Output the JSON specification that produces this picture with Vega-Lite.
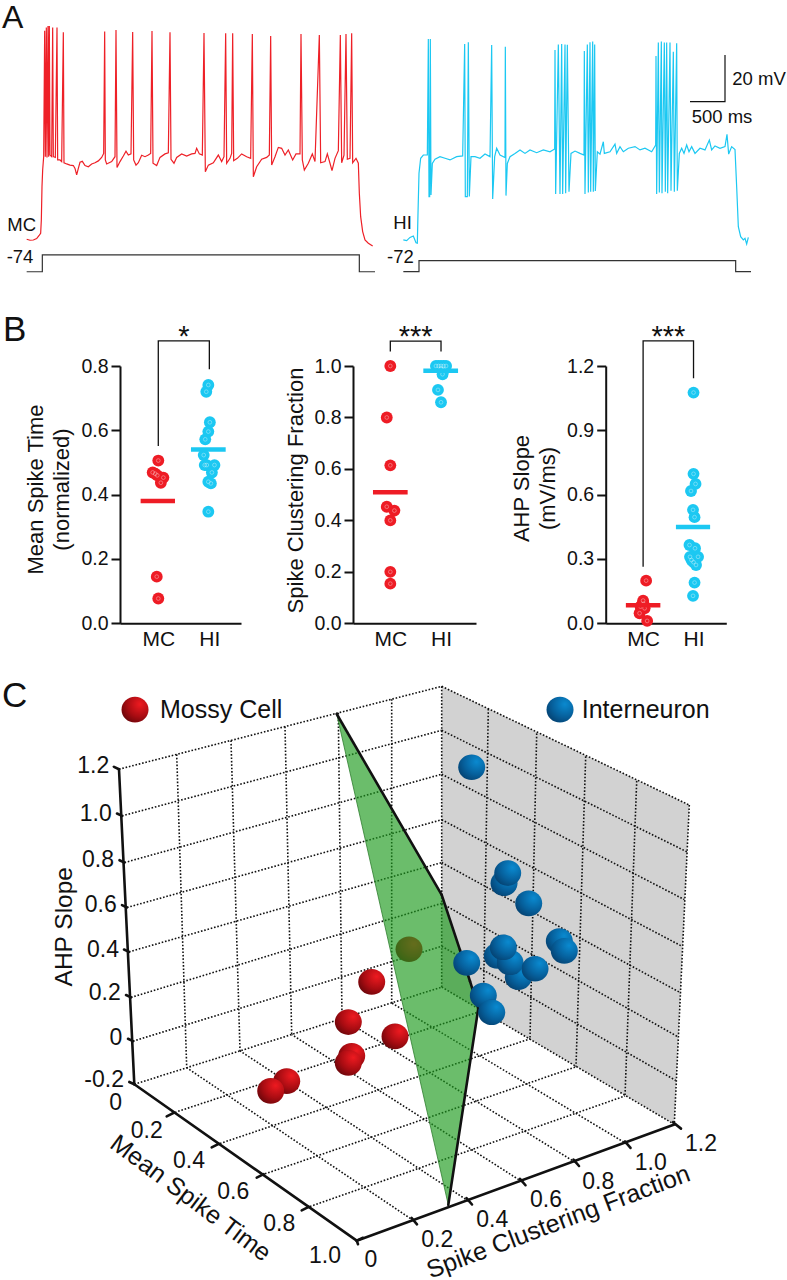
{"$schema":"https://vega.github.io/schema/vega-lite/v6.json","padding":0,"background":"white","spacing":0,
"config":{"view":{"stroke":null},"text":{"font":"Liberation Sans","color":"#111"},"axis":{"grid":false,"labelFont":"Liberation Sans","titleFont":"Liberation Sans","titleFontWeight":"normal","domainColor":"#111","tickColor":"#111","labelColor":"#111","titleColor":"#111","domainWidth":2,"tickWidth":2,"tickSize":9,"labelFontSize":19.5,"labelPadding":3,"titleFontSize":22,"titleLineHeight":26},"concat":{"spacing":0}},
"datasets":{
"mc":[{"t":-240,"v":-73.7},{"t":-190,"v":-74.1},{"t":-140,"v":-74},{"t":-90,"v":-73.4},{"t":-50,"v":-71.9},{"t":-30,"v":-71.1},{"t":-20,"v":-65.4},{"t":-10,"v":-51.1},{"t":0,"v":-44},{"t":15,"v":-38.3},{"t":30,"v":15.7},{"t":40,"v":-38.3},{"t":55,"v":17.1},{"t":65,"v":-38.6},{"t":80,"v":17.7},{"t":90,"v":-38.3},{"t":100,"v":17.7},{"t":110,"v":-37.6},{"t":135,"v":-38.3},{"t":150,"v":17.1},{"t":160,"v":-38.3},{"t":190,"v":-38.6},{"t":215,"v":17.1},{"t":225,"v":-39.7},{"t":260,"v":-39.7},{"t":285,"v":-40.4},{"t":310,"v":15},{"t":320,"v":-40.9},{"t":360,"v":-41.4},{"t":410,"v":-41.9},{"t":460,"v":-42.1},{"t":485,"v":-43.3},{"t":510,"v":-46.1},{"t":535,"v":-43.3},{"t":560,"v":-40.7},{"t":595,"v":-40.3},{"t":635,"v":-42.1},{"t":685,"v":-42.6},{"t":735,"v":-41.4},{"t":785,"v":-40.9},{"t":835,"v":-40.1},{"t":885,"v":-38.6},{"t":915,"v":-36.9},{"t":930,"v":15.4},{"t":940,"v":-39.7},{"t":960,"v":-41.4},{"t":1035,"v":-40.4},{"t":1085,"v":-38.3},{"t":1100,"v":16},{"t":1115,"v":-42.9},{"t":1160,"v":-40.4},{"t":1210,"v":-38},{"t":1250,"v":-35.9},{"t":1285,"v":-37.6},{"t":1325,"v":-37.1},{"t":1350,"v":15.1},{"t":1365,"v":-39.7},{"t":1400,"v":-41.9},{"t":1435,"v":-40.9},{"t":1485,"v":-37.7},{"t":1535,"v":-38.3},{"t":1585,"v":-37.6},{"t":1620,"v":-36.9},{"t":1640,"v":15.6},{"t":1655,"v":-41.1},{"t":1710,"v":-42.1},{"t":1760,"v":-38.6},{"t":1835,"v":-37.1},{"t":1885,"v":-36.6},{"t":1910,"v":15},{"t":1925,"v":-39.4},{"t":1970,"v":-41.1},{"t":2010,"v":-38.6},{"t":2085,"v":-37.1},{"t":2160,"v":-38},{"t":2235,"v":-37.1},{"t":2285,"v":-36.9},{"t":2310,"v":-34.7},{"t":2350,"v":-37.1},{"t":2395,"v":-37.6},{"t":2420,"v":14.7},{"t":2440,"v":-44.7},{"t":2485,"v":-41.9},{"t":2560,"v":-40.9},{"t":2635,"v":-37.6},{"t":2685,"v":-40.4},{"t":2720,"v":-38.3},{"t":2745,"v":14.6},{"t":2760,"v":-41.1},{"t":2810,"v":-39},{"t":2835,"v":-36.9},{"t":2850,"v":14.6},{"t":2865,"v":-40},{"t":2920,"v":-39},{"t":2985,"v":-37.1},{"t":3060,"v":-38.3},{"t":3120,"v":-39},{"t":3145,"v":14.3},{"t":3160,"v":-46.9},{"t":3210,"v":-42.6},{"t":3285,"v":-39.4},{"t":3360,"v":-38.6},{"t":3400,"v":-37.6},{"t":3420,"v":13.4},{"t":3435,"v":-41.9},{"t":3485,"v":-38.3},{"t":3535,"v":-34.3},{"t":3585,"v":-34.7},{"t":3635,"v":-37.6},{"t":3685,"v":-35.4},{"t":3750,"v":-39.7},{"t":3800,"v":-37.1},{"t":3860,"v":-37.1},{"t":3875,"v":14.3},{"t":3895,"v":-39.7},{"t":3925,"v":-44},{"t":3985,"v":-41.1},{"t":4045,"v":-37.1},{"t":4085,"v":-40.4},{"t":4150,"v":13.9},{"t":4170,"v":-40.9},{"t":4235,"v":-40.4},{"t":4270,"v":-37.1},{"t":4310,"v":-41.1},{"t":4340,"v":-44.3},{"t":4385,"v":-39},{"t":4435,"v":-35.7},{"t":4465,"v":13.9},{"t":4485,"v":-40.9},{"t":4520,"v":-37.6},{"t":4550,"v":14.3},{"t":4570,"v":-39.4},{"t":4610,"v":-39},{"t":4635,"v":14.6},{"t":4650,"v":-40.9},{"t":4700,"v":-39},{"t":4735,"v":-41.1},{"t":4750,"v":-54},{"t":4770,"v":-64},{"t":4800,"v":-70.4},{"t":4835,"v":-74},{"t":4885,"v":-75.4},{"t":4950,"v":-76.6}],
"hi":[{"t":-235,"v":-71.7},{"t":-185,"v":-72},{"t":-135,"v":-70.6},{"t":-85,"v":-70},{"t":-45,"v":-72.9},{"t":-25,"v":-73.1},{"t":-15,"v":-60.3},{"t":0,"v":-43.1},{"t":25,"v":-36.7},{"t":65,"v":-35.3},{"t":125,"v":-35.3},{"t":140,"v":14.4},{"t":150,"v":-53.1},{"t":160,"v":-53.1},{"t":170,"v":14.4},{"t":180,"v":-52.4},{"t":200,"v":-38.9},{"t":240,"v":-37.1},{"t":315,"v":-36},{"t":390,"v":-36.7},{"t":465,"v":-37.4},{"t":565,"v":-36},{"t":655,"v":-35.7},{"t":685,"v":12.3},{"t":695,"v":-53.1},{"t":725,"v":-53.1},{"t":740,"v":13},{"t":755,"v":-53.1},{"t":780,"v":-36},{"t":840,"v":-36},{"t":915,"v":-36.7},{"t":990,"v":-34.9},{"t":1065,"v":-36},{"t":1090,"v":11.9},{"t":1105,"v":-54.1},{"t":1135,"v":-36},{"t":1165,"v":-32.4},{"t":1215,"v":-35.3},{"t":1290,"v":-36.4},{"t":1295,"v":11.1},{"t":1305,"v":-52.7},{"t":1325,"v":-38.9},{"t":1365,"v":-36},{"t":1440,"v":-34.6},{"t":1515,"v":-33.1},{"t":1590,"v":-34.6},{"t":1665,"v":-33.1},{"t":1765,"v":-34.3},{"t":1865,"v":-33.1},{"t":1965,"v":-33.9},{"t":2035,"v":-32.7},{"t":2040,"v":9.7},{"t":2050,"v":-52},{"t":2090,"v":12.1},{"t":2115,"v":-52},{"t":2140,"v":12.3},{"t":2155,"v":-52},{"t":2190,"v":12.1},{"t":2200,"v":-51.7},{"t":2225,"v":12},{"t":2250,"v":-51},{"t":2280,"v":-34.6},{"t":2340,"v":-33.6},{"t":2415,"v":-34.6},{"t":2475,"v":-35.3},{"t":2480,"v":9.3},{"t":2490,"v":-52},{"t":2525,"v":12.1},{"t":2540,"v":-51.4},{"t":2565,"v":13},{"t":2575,"v":-51},{"t":2605,"v":13.3},{"t":2615,"v":-51},{"t":2635,"v":12.1},{"t":2645,"v":-50.7},{"t":2675,"v":-33.9},{"t":2715,"v":-34.9},{"t":2765,"v":-29.6},{"t":2780,"v":-34.6},{"t":2865,"v":-33.9},{"t":2940,"v":-30.6},{"t":2965,"v":-34.6},{"t":3015,"v":-31.7},{"t":3065,"v":-33.9},{"t":3140,"v":-32.4},{"t":3240,"v":-31.7},{"t":3315,"v":-33.1},{"t":3390,"v":-32.4},{"t":3490,"v":-33.9},{"t":3550,"v":-31},{"t":3555,"v":7.1},{"t":3565,"v":-52},{"t":3590,"v":12.9},{"t":3605,"v":-51.4},{"t":3635,"v":13.3},{"t":3645,"v":-51.7},{"t":3680,"v":12.9},{"t":3695,"v":-51},{"t":3715,"v":12.9},{"t":3730,"v":-51.7},{"t":3765,"v":12.9},{"t":3780,"v":-50.6},{"t":3815,"v":9},{"t":3830,"v":-51},{"t":3865,"v":12.6},{"t":3875,"v":-50.6},{"t":3905,"v":-34.6},{"t":3940,"v":-32.4},{"t":3975,"v":-34.6},{"t":4015,"v":-31},{"t":4050,"v":-33.9},{"t":4090,"v":-31.7},{"t":4140,"v":-34.6},{"t":4215,"v":-32.4},{"t":4290,"v":-33.1},{"t":4355,"v":-28.9},{"t":4390,"v":-33.1},{"t":4440,"v":-31.4},{"t":4515,"v":-32.4},{"t":4590,"v":-31.7},{"t":4620,"v":-26.4},{"t":4645,"v":-34.9},{"t":4690,"v":-31.7},{"t":4740,"v":-32.9},{"t":4765,"v":-48.9},{"t":4790,"v":-66},{"t":4825,"v":-70.3},{"t":4865,"v":-71.7},{"t":4890,"v":-71},{"t":4915,"v":-73.4},{"t":4940,"v":-70.6}],
"p1":[{"g":"MC","pos":1.0,"value":0.506},{"g":"MC","pos":0.89,"value":0.469},{"g":"MC","pos":0.94,"value":0.465},{"g":"MC","pos":0.98,"value":0.46},{"g":"MC","pos":1.1,"value":0.453},{"g":"MC","pos":1.05,"value":0.437},{"g":"MC","pos":0.97,"value":0.145},{"g":"MC","pos":1.0,"value":0.077},{"g":"HI","pos":1.98,"value":0.741},{"g":"HI","pos":1.94,"value":0.72},{"g":"HI","pos":2.01,"value":0.625},{"g":"HI","pos":1.98,"value":0.596},{"g":"HI","pos":1.92,"value":0.572},{"g":"HI","pos":1.89,"value":0.523},{"g":"HI","pos":1.95,"value":0.492},{"g":"HI","pos":2.1,"value":0.492},{"g":"HI","pos":1.91,"value":0.492},{"g":"HI","pos":2.05,"value":0.469},{"g":"HI","pos":1.98,"value":0.44},{"g":"HI","pos":2.03,"value":0.435},{"g":"HI","pos":1.98,"value":0.347}],
"p2":[{"g":"MC","pos":1.0,"value":1.0},{"g":"MC","pos":0.93,"value":0.8},{"g":"MC","pos":1.0,"value":0.614},{"g":"MC","pos":0.93,"value":0.453},{"g":"MC","pos":1.08,"value":0.438},{"g":"MC","pos":1.0,"value":0.4},{"g":"MC","pos":1.0,"value":0.2},{"g":"MC","pos":1.0,"value":0.154},{"g":"HI","pos":1.9,"value":1.0},{"g":"HI","pos":1.95,"value":1.0},{"g":"HI","pos":2.0,"value":1.0},{"g":"HI","pos":2.05,"value":1.0},{"g":"HI","pos":2.1,"value":1.0},{"g":"HI","pos":2.0,"value":0.99},{"g":"HI","pos":2.06,"value":0.985},{"g":"HI","pos":2.03,"value":0.968},{"g":"HI","pos":1.94,"value":0.907},{"g":"HI","pos":2.0,"value":0.859}],
"p3":[{"g":"MC","pos":1.06,"value":0.199},{"g":"MC","pos":1.0,"value":0.106},{"g":"MC","pos":0.97,"value":0.085},{"g":"MC","pos":0.93,"value":0.047},{"g":"MC","pos":1.03,"value":0.07},{"g":"MC","pos":1.08,"value":0.011},{"g":"MC","pos":0.95,"value":0.078},{"g":"MC","pos":1.01,"value":0.09},{"g":"HI","pos":2.0,"value":1.076},{"g":"HI","pos":2.0,"value":0.697},{"g":"HI","pos":2.04,"value":0.65},{"g":"HI","pos":1.95,"value":0.617},{"g":"HI","pos":1.99,"value":0.529},{"g":"HI","pos":2.02,"value":0.495},{"g":"HI","pos":1.92,"value":0.365},{"g":"HI","pos":2.03,"value":0.35},{"g":"HI","pos":2.09,"value":0.31},{"g":"HI","pos":1.93,"value":0.31},{"g":"HI","pos":1.96,"value":0.295},{"g":"HI","pos":2.0,"value":0.285},{"g":"HI","pos":2.05,"value":0.272},{"g":"HI","pos":2.02,"value":0.19},{"g":"HI","pos":1.99,"value":0.128}],
"polys":[{"n":"wall","i":0,"u":441.7,"w":684},{"n":"wall","i":1,"u":689.3,"w":785.7},{"n":"wall","i":2,"u":674.3,"w":1059.3},{"n":"wall","i":3,"u":441.7,"w":941.7}],
"plane":[{"n":"plane","i":0,"u":336.7,"w":707.7},{"n":"plane","i":1,"u":441.7,"w":862.7},{"n":"plane","i":2,"u":460,"w":910},{"n":"plane","i":3,"u":470,"w":936.7},{"n":"plane","i":4,"u":478.3,"w":960},{"n":"plane","i":5,"u":448.3,"w":1128.3}],
"grid":[{"u":119,"w":755,"u2":441.7,"w2":684},{"u":122,"w":795,"u2":441.7,"w2":721.7},{"u":124.5,"w":835,"u2":441.7,"w2":759.3},{"u":127,"w":873.5,"u2":441.7,"w2":798.3},{"u":129,"w":911.5,"u2":441.7,"w2":835},{"u":131,"w":950.5,"u2":441.7,"w2":870},{"u":133,"w":988,"u2":441.7,"w2":906.7},{"u":134.3,"w":1025,"u2":441.7,"w2":941.7},{"u":441.7,"w":684,"u2":689.3,"w2":785.7},{"u":441.7,"w":721.7,"u2":687.3,"w2":826},{"u":441.7,"w":759.3,"u2":684.3,"w2":866.7},{"u":441.7,"w":798.3,"u2":682,"w2":906.7},{"u":441.7,"w":835,"u2":679.3,"w2":946},{"u":441.7,"w":870,"u2":677.3,"w2":984},{"u":441.7,"w":906.7,"u2":675.7,"w2":1021.7},{"u":441.7,"w":941.7,"u2":674.3,"w2":1059.3},{"u":176.7,"w":742.3,"u2":186.7,"w2":1010.8},{"u":231,"w":730.4,"u2":240,"w2":996.4},{"u":285,"w":718.5,"u2":291.7,"w2":982.4},{"u":338.3,"w":706.7,"u2":342,"w2":968.7},{"u":391.7,"w":695,"u2":391.7,"w2":955.3},{"u":441.7,"w":684,"u2":441.7,"w2":941.7},{"u":488.3,"w":703.3,"u2":483.3,"w2":961.7},{"u":536.7,"w":724.3,"u2":530,"w2":986},{"u":585.7,"w":744,"u2":576,"w2":1010},{"u":636.7,"w":765,"u2":625,"w2":1035},{"u":689.3,"w":785.7,"u2":674.3,"w2":1059.3},{"u":413.3,"w":1141.7,"u2":186.7,"w2":1010.8},{"u":468.3,"w":1125,"u2":240,"w2":996.4},{"u":521.7,"w":1108.3,"u2":291.7,"w2":982.4},{"u":575,"w":1091.7,"u2":342,"w2":968.7},{"u":626.7,"w":1076,"u2":391.7,"w2":955.3},{"u":171.7,"w":1050,"u2":483.3,"w2":961.7},{"u":216.7,"w":1076.7,"u2":530,"w2":986},{"u":261.7,"w":1102.7,"u2":576,"w2":1010},{"u":306.7,"w":1130.7,"u2":625,"w2":1035}],
"edges":[{"u":336.7,"w":707.7,"u2":441.7,"w2":862.7},{"u":441.7,"w":862.7,"u2":460,"w2":910},{"u":460,"w":910,"u2":470,"w2":936.7},{"u":470,"w":936.7,"u2":478.3,"w2":960},{"u":478.3,"w":960,"u2":448.3,"w2":1128.3}],
"axes3d":[{"u":119,"w":755,"u2":134.3,"w2":1025},{"u":134.3,"w":1025,"u2":356.7,"w2":1159},{"u":356.7,"w":1159,"u2":675,"w2":1059.3},{"u":114,"w":753,"u2":119,"w2":755},{"u":117,"w":793,"u2":122,"w2":795},{"u":119.5,"w":833,"u2":124.5,"w2":835},{"u":122,"w":871.5,"u2":127,"w2":873.5},{"u":124,"w":909.5,"u2":129,"w2":911.5},{"u":126,"w":948.5,"u2":131,"w2":950.5},{"u":128,"w":986,"u2":133,"w2":988},{"u":129.3,"w":1023,"u2":134.3,"w2":1025},{"u":166.7,"w":1052.5,"u2":173.7,"w2":1049.5},{"u":211.7,"w":1079,"u2":218.7,"w2":1076},{"u":256.7,"w":1105,"u2":263.7,"w2":1102},{"u":301.7,"w":1133,"u2":308.7,"w2":1130},{"u":356.7,"w":1159,"u2":363,"w2":1156.5},{"u":356.7,"w":1159,"u2":358,"w2":1162},{"u":411.5,"w":1139.5,"u2":417,"w2":1145},{"u":466.5,"w":1122.5,"u2":472,"w2":1128},{"u":520,"w":1106,"u2":525.5,"w2":1111.5},{"u":573.5,"w":1089.5,"u2":579,"w2":1095},{"u":625,"w":1074,"u2":630.5,"w2":1079.5},{"u":673,"w":1057.5,"u2":681,"w2":1063}],
"redBalls":[{"u":371.7,"w":937.3},{"u":409,"w":909.3},{"u":348.3,"w":971.7},{"u":395,"w":984},{"u":351.7,"w":1000.7},{"u":348.3,"w":1006.7},{"u":286.7,"w":1022.3},{"u":270.7,"w":1030.7},{"u":135,"w":704}],
"blueBalls":[{"u":471.7,"w":753.3},{"u":504,"w":852.7},{"u":507.7,"w":844},{"u":528.7,"w":870},{"u":559.3,"w":902.3},{"u":564.3,"w":910.7},{"u":497.3,"w":915},{"u":518.3,"w":933.3},{"u":510,"w":920.7},{"u":503.3,"w":907.7},{"u":535,"w":926},{"u":466.7,"w":921},{"u":483.3,"w":949},{"u":491.7,"w":963.3},{"u":560,"w":704}],
"labels3d":[{"u":115.7,"w":1040.7,"s":"0"},{"u":146.7,"w":1065,"s":"0.2"},{"u":189,"w":1091,"s":"0.4"},{"u":233.3,"w":1117.7,"s":"0.6"},{"u":279.3,"w":1144.3,"s":"0.8"},{"u":325,"w":1172.3,"s":"1.0"},{"u":371,"w":1175.7,"s":"0"},{"u":437.3,"w":1158.3,"s":"0.2"},{"u":492.3,"w":1141,"s":"0.4"},{"u":546,"w":1124,"s":"0.6"},{"u":598.3,"w":1108.3,"s":"0.8"},{"u":650.7,"w":1092.3,"s":"1.0"},{"u":701,"w":1076,"s":"1.2"}],
"zlabels":[{"u":109.3,"w":752.3,"s":"1.2"},{"u":111.7,"w":793,"s":"1.0"},{"u":114,"w":833,"s":"0.8"},{"u":116.7,"w":871.7,"s":"0.6"},{"u":119,"w":910,"s":"0.4"},{"u":120.7,"w":946.7,"s":"0.2"},{"u":122.3,"w":985,"s":"0"},{"u":124,"w":1021.7,"s":"-0.2"}]
},
"vconcat":[
{"spacing":0,"hconcat":[
{"width":380,"height":290,"layer":[
{"data":{"name":"mc"},"mark":{"type":"line","color":"#ee2027","strokeWidth":1.2},"encoding":{"x":{"field":"t","type":"quantitative","axis":null,"scale":{"domain":[-640,5060],"nice":false,"zero":false}},"y":{"field":"v","type":"quantitative","axis":null,"scale":{"domain":[-95.43,28.857],"nice":false,"zero":false}}}},
{"data":{"values":[{"i":0,"t":-240,"v":-87.6},{"i":1,"t":-5,"v":-87.6},{"i":2,"t":-5,"v":-80.4},{"i":3,"t":4750,"v":-80.4},{"i":4,"t":4750,"v":-87.6},{"i":5,"t":4985,"v":-87.6}]},"mark":{"type":"line","color":"#333","strokeWidth":1.2},"encoding":{"x":{"field":"t","type":"quantitative"},"y":{"field":"v","type":"quantitative"},"order":{"field":"i"}}},
{"data":{"values":[{"t":-530,"v":-67.7,"s":"MC"},{"t":-540,"v":-81.1,"s":"-74"}]},"mark":{"type":"text","align":"left","baseline":"middle","fontSize":18.5},"encoding":{"x":{"field":"t","type":"quantitative"},"y":{"field":"v","type":"quantitative"},"text":{"field":"s"}}},
{"data":{"values":[{"t":-610,"v":21,"s":"A"}]},"mark":{"type":"text","align":"left","baseline":"middle","fontSize":32},"encoding":{"x":{"field":"t","type":"quantitative"},"y":{"field":"v","type":"quantitative"},"text":{"field":"s"}}}
]},
{"width":407,"height":290,"layer":[
{"data":{"name":"hi"},"mark":{"type":"line","color":"#1cc8f2","strokeWidth":1.2},"encoding":{"x":{"field":"t","type":"quantitative","axis":null,"scale":{"domain":[-585,5520],"nice":false,"zero":false}},"y":{"field":"v","type":"quantitative","axis":null,"scale":{"domain":[-93.15,31.14],"nice":false,"zero":false}}}},
{"data":{"values":[{"i":0,"t":-235,"v":-85.3},{"i":1,"t":0,"v":-85.3},{"i":2,"t":0,"v":-80.6},{"i":3,"t":4750,"v":-80.6},{"i":4,"t":4750,"v":-85.3},{"i":5,"t":4980,"v":-85.3}]},"mark":{"type":"line","color":"#333","strokeWidth":1.2},"encoding":{"x":{"field":"t","type":"quantitative"},"y":{"field":"v","type":"quantitative"},"order":{"field":"i"}}},
{"data":{"values":[{"i":0,"t":4065,"v":-12.4},{"i":1,"t":4590,"v":-12.4},{"i":2,"t":4590,"v":7.6}]},"mark":{"type":"line","color":"#111","strokeWidth":1.2},"encoding":{"x":{"field":"t","type":"quantitative"},"y":{"field":"v","type":"quantitative"},"order":{"field":"i"}}},
{"data":{"values":[{"t":4700,"v":-2.9,"s":"20 mV"},{"t":4090,"v":-19.1,"s":"500 ms"},{"t":-385,"v":-64.6,"s":"HI"},{"t":-480,"v":-79.1,"s":"-72"}]},"mark":{"type":"text","align":"left","baseline":"middle","fontSize":18.5},"encoding":{"x":{"field":"t","type":"quantitative"},"y":{"field":"v","type":"quantitative"},"text":{"field":"s"}}}
]}
]},
{"spacing":0,"hconcat":[
{"width":270,"height":370,"layer":[
{"data":{"name":"p1"},"mark":{"type":"point","filled":true,"size":140,"opacity":1},"encoding":{"x":{"field":"pos","type":"quantitative","scale":{"domain":[0.25,2.62],"range":[120,241],"nice":false,"zero":false},"axis":{"values":[1,2],"labelExpr":"datum.value==1?'MC':'HI'","ticks":false,"title":null,"offset":-36.7,"labelFontSize":21,"labelPadding":5}},"y":{"field":"value","type":"quantitative","scale":{"domain":[0,0.8],"range":[333.3,76],"nice":false,"zero":false},"axis":{"values":[0,0.2,0.4,0.6,0.8],"format":".1f","offset":-120,"title":["Mean Spike Time","(normalized)"],"titleX":-73,"titleY":199}},"color":{"field":"g","type":"nominal","scale":{"domain":["MC","HI"],"range":["#ee1c25","#1cc8f2"]},"legend":null}}},
{"data":{"name":"p1"},"mark":{"type":"point","filled":false,"size":14,"stroke":"#fff","strokeWidth":0.7,"opacity":0.5},"encoding":{"x":{"field":"pos","type":"quantitative"},"y":{"field":"value","type":"quantitative"}}},
{"data":{"values":[{"g":"MC","pos":0.654,"pos2":1.327,"value":0.38},{"g":"HI","pos":1.64,"pos2":2.32,"value":0.54}]},"mark":{"type":"rule","strokeWidth":4.5},"encoding":{"x":{"field":"pos","type":"quantitative"},"x2":{"field":"pos2"},"y":{"field":"value","type":"quantitative"},"color":{"field":"g","type":"nominal"}}},
{"data":{"values":[{"i":0,"pos":1,"value":0.551},{"i":1,"pos":1,"value":0.878},{"i":2,"pos":2,"value":0.878},{"i":3,"pos":2,"value":0.79}]},"mark":{"type":"line","color":"#111","strokeWidth":1.3},"encoding":{"x":{"field":"pos","type":"quantitative"},"y":{"field":"value","type":"quantitative"},"order":{"field":"i"}}},
{"data":{"values":[{"pos":1.5,"value":0.89,"s":"*"}]},"mark":{"type":"text","fontSize":29,"align":"center","baseline":"middle"},"encoding":{"x":{"field":"pos","type":"quantitative"},"y":{"field":"value","type":"quantitative"},"text":{"field":"s"}}},
{"data":{"values":[{"pos":-2.04,"value":0.912,"s":"B"}]},"mark":{"type":"text","fontSize":35,"align":"left","baseline":"middle"},"encoding":{"x":{"field":"pos","type":"quantitative"},"y":{"field":"value","type":"quantitative"},"text":{"field":"s"}}}
]},
{"width":240,"height":370,"layer":[
{"data":{"name":"p2"},"mark":{"type":"point","filled":true,"size":140,"opacity":1},"encoding":{"x":{"field":"pos","type":"quantitative","scale":{"domain":[0.264,2.69],"range":[83,206],"nice":false,"zero":false},"axis":{"values":[1,2],"labelExpr":"datum.value==1?'MC':'HI'","ticks":false,"title":null,"offset":-36.7,"labelFontSize":21,"labelPadding":5}},"y":{"field":"value","type":"quantitative","scale":{"domain":[0,1],"range":[333.3,76],"nice":false,"zero":false},"axis":{"values":[0,0.2,0.4,0.6,0.8,1],"format":".1f","offset":-83,"title":"Spike Clustering Fraction","titleX":-46,"titleY":200}},"color":{"field":"g","type":"nominal","scale":{"domain":["MC","HI"],"range":["#ee1c25","#1cc8f2"]},"legend":null}}},
{"data":{"name":"p2"},"mark":{"type":"point","filled":false,"size":14,"stroke":"#fff","strokeWidth":0.7,"opacity":0.5},"encoding":{"x":{"field":"pos","type":"quantitative"},"y":{"field":"value","type":"quantitative"}}},
{"data":{"values":[{"g":"MC","pos":0.658,"pos2":1.342,"value":0.509},{"g":"HI","pos":1.651,"pos2":2.336,"value":0.982}]},"mark":{"type":"rule","strokeWidth":4.5},"encoding":{"x":{"field":"pos","type":"quantitative"},"x2":{"field":"pos2"},"y":{"field":"value","type":"quantitative"},"color":{"field":"g","type":"nominal"}}},
{"data":{"values":[{"i":0,"pos":1,"value":1.056},{"i":1,"pos":1,"value":1.097},{"i":2,"pos":2,"value":1.097},{"i":3,"pos":2,"value":1.056}]},"mark":{"type":"line","color":"#111","strokeWidth":1.3},"encoding":{"x":{"field":"pos","type":"quantitative"},"y":{"field":"value","type":"quantitative"},"order":{"field":"i"}}},
{"data":{"values":[{"pos":1.5,"value":1.112,"s":"***"}]},"mark":{"type":"text","fontSize":29,"align":"center","baseline":"middle"},"encoding":{"x":{"field":"pos","type":"quantitative"},"y":{"field":"value","type":"quantitative"},"text":{"field":"s"}}}
]},
{"width":277,"height":370,"layer":[
{"data":{"name":"p3"},"mark":{"type":"point","filled":true,"size":140,"opacity":1},"encoding":{"x":{"field":"pos","type":"quantitative","scale":{"domain":[0.258,2.65],"range":[92.7,213.3],"nice":false,"zero":false},"axis":{"values":[1,2],"labelExpr":"datum.value==1?'MC':'HI'","ticks":false,"title":null,"offset":-36.7,"labelFontSize":21,"labelPadding":5}},"y":{"field":"value","type":"quantitative","scale":{"domain":[0,1.2],"range":[333.3,76],"nice":false,"zero":false},"axis":{"values":[0,0.3,0.6,0.9,1.2],"format":".1f","offset":-92.7,"title":["AHP Slope","(mV/ms)"],"titleX":-72,"titleY":198}},"color":{"field":"g","type":"nominal","scale":{"domain":["MC","HI"],"range":["#ee1c25","#1cc8f2"]},"legend":null}}},
{"data":{"name":"p3"},"mark":{"type":"point","filled":false,"size":14,"stroke":"#fff","strokeWidth":0.7,"opacity":0.5},"encoding":{"x":{"field":"pos","type":"quantitative"},"y":{"field":"value","type":"quantitative"}}},
{"data":{"values":[{"g":"MC","pos":0.658,"pos2":1.342,"value":0.084},{"g":"HI","pos":1.651,"pos2":2.329,"value":0.449}]},"mark":{"type":"rule","strokeWidth":4.5},"encoding":{"x":{"field":"pos","type":"quantitative"},"x2":{"field":"pos2"},"y":{"field":"value","type":"quantitative"},"color":{"field":"g","type":"nominal"}}},
{"data":{"values":[{"i":0,"pos":1,"value":0.264},{"i":1,"pos":1,"value":1.317},{"i":2,"pos":2,"value":1.317},{"i":3,"pos":2,"value":1.143}]},"mark":{"type":"line","color":"#111","strokeWidth":1.3},"encoding":{"x":{"field":"pos","type":"quantitative"},"y":{"field":"value","type":"quantitative"},"order":{"field":"i"}}},
{"data":{"values":[{"pos":1.5,"value":1.334,"s":"***"}]},"mark":{"type":"text","fontSize":29,"align":"center","baseline":"middle"},"encoding":{"x":{"field":"pos","type":"quantitative"},"y":{"field":"value","type":"quantitative"},"text":{"field":"s"}}}
]}
]},
{"width":787,"height":620,"layer":[
{"data":{"name":"polys"},"mark":{"type":"line","fill":"#d2d2d2","stroke":null,"interpolate":"linear-closed"},"encoding":{"x":{"field":"u","type":"quantitative","axis":null,"scale":{"domain":[0,787],"nice":false,"zero":false}},"y":{"field":"w","type":"quantitative","axis":null,"scale":{"domain":[661.43,1192.7],"reverse":true,"nice":false,"zero":false}},"order":{"field":"i"}}},
{"data":{"name":"grid"},"mark":{"type":"rule","color":"#111","strokeWidth":1.6,"strokeDash":[1.6,1.8]},"encoding":{"x":{"field":"u","type":"quantitative"},"y":{"field":"w","type":"quantitative"},"x2":{"field":"u2"},"y2":{"field":"w2"}}},
{"data":{"name":"redBalls"},"mark":{"type":"point","filled":true,"opacity":1,"size":729,"shape":"M-1,0A1,0.95 0 1 1 1,0A1,0.95 0 1 1 -1,0Z","fill":{"gradient":"radial","x1":0.68,"y1":0.3,"r1":0,"x2":0.68,"y2":0.3,"r2":0.85,"stops":[{"offset":0,"color":"#ee1a20"},{"offset":0.55,"color":"#a80c12"},{"offset":1,"color":"#5a0408"}]}},"encoding":{"x":{"field":"u","type":"quantitative"},"y":{"field":"w","type":"quantitative"}}},
{"data":{"name":"plane"},"mark":{"type":"line","fill":"#1c9a1c","fillOpacity":0.65,"stroke":"#2f7d2f","strokeWidth":0.8,"interpolate":"linear-closed"},"encoding":{"x":{"field":"u","type":"quantitative"},"y":{"field":"w","type":"quantitative"},"order":{"field":"i"}}},
{"data":{"name":"edges"},"mark":{"type":"rule","color":"#111","strokeWidth":2.6,"strokeCap":"round"},"encoding":{"x":{"field":"u","type":"quantitative"},"y":{"field":"w","type":"quantitative"},"x2":{"field":"u2"},"y2":{"field":"w2"}}},
{"data":{"name":"blueBalls"},"mark":{"type":"point","filled":true,"opacity":1,"size":729,"shape":"M-1,0A1,0.95 0 1 1 1,0A1,0.95 0 1 1 -1,0Z","fill":{"gradient":"radial","x1":0.68,"y1":0.3,"r1":0,"x2":0.68,"y2":0.3,"r2":0.85,"stops":[{"offset":0,"color":"#0a8ad0"},{"offset":0.55,"color":"#06609c"},{"offset":1,"color":"#043a66"}]}},"encoding":{"x":{"field":"u","type":"quantitative"},"y":{"field":"w","type":"quantitative"}}},
{"data":{"name":"axes3d"},"mark":{"type":"rule","color":"#111","strokeWidth":2.6,"strokeCap":"round"},"encoding":{"x":{"field":"u","type":"quantitative"},"y":{"field":"w","type":"quantitative"},"x2":{"field":"u2"},"y2":{"field":"w2"}}},
{"data":{"name":"labels3d"},"mark":{"type":"text","fontSize":23,"align":"center","baseline":"middle"},"encoding":{"x":{"field":"u","type":"quantitative"},"y":{"field":"w","type":"quantitative"},"text":{"field":"s"}}},
{"data":{"name":"zlabels"},"mark":{"type":"text","fontSize":23,"align":"right","baseline":"middle"},"encoding":{"x":{"field":"u","type":"quantitative"},"y":{"field":"w","type":"quantitative"},"text":{"field":"s"}}},
{"data":{"values":[{"u":160,"w":704,"s":"Mossy Cell"},{"u":581.7,"w":704,"s":"Interneuron"}]},"mark":{"type":"text","fontSize":25,"align":"left","baseline":"middle"},"encoding":{"x":{"field":"u","type":"quantitative"},"y":{"field":"w","type":"quantitative"},"text":{"field":"s"}}},
{"data":{"values":[{"u":2,"w":692.7,"s":"C"}]},"mark":{"type":"text","fontSize":35,"align":"left","baseline":"middle"},"encoding":{"x":{"field":"u","type":"quantitative"},"y":{"field":"w","type":"quantitative"},"text":{"field":"s"}}},
{"data":{"values":[{"u":65,"w":890,"s":"AHP Slope"}]},"mark":{"type":"text","fontSize":24.5,"angle":270,"align":"center","baseline":"middle"},"encoding":{"x":{"field":"u","type":"quantitative"},"y":{"field":"w","type":"quantitative"},"text":{"field":"s"}}},
{"data":{"values":[{"u":190.7,"w":1122.5,"s":"Mean Spike Time"}]},"mark":{"type":"text","fontSize":25,"angle":36.8,"align":"center","baseline":"middle"},"encoding":{"x":{"field":"u","type":"quantitative"},"y":{"field":"w","type":"quantitative"},"text":{"field":"s"}}},
{"data":{"values":[{"u":558.3,"w":1143,"s":"Spike Clustering Fraction"}]},"mark":{"type":"text","fontSize":25,"angle":339.3,"align":"center","baseline":"middle"},"encoding":{"x":{"field":"u","type":"quantitative"},"y":{"field":"w","type":"quantitative"},"text":{"field":"s"}}}
]}
]}
